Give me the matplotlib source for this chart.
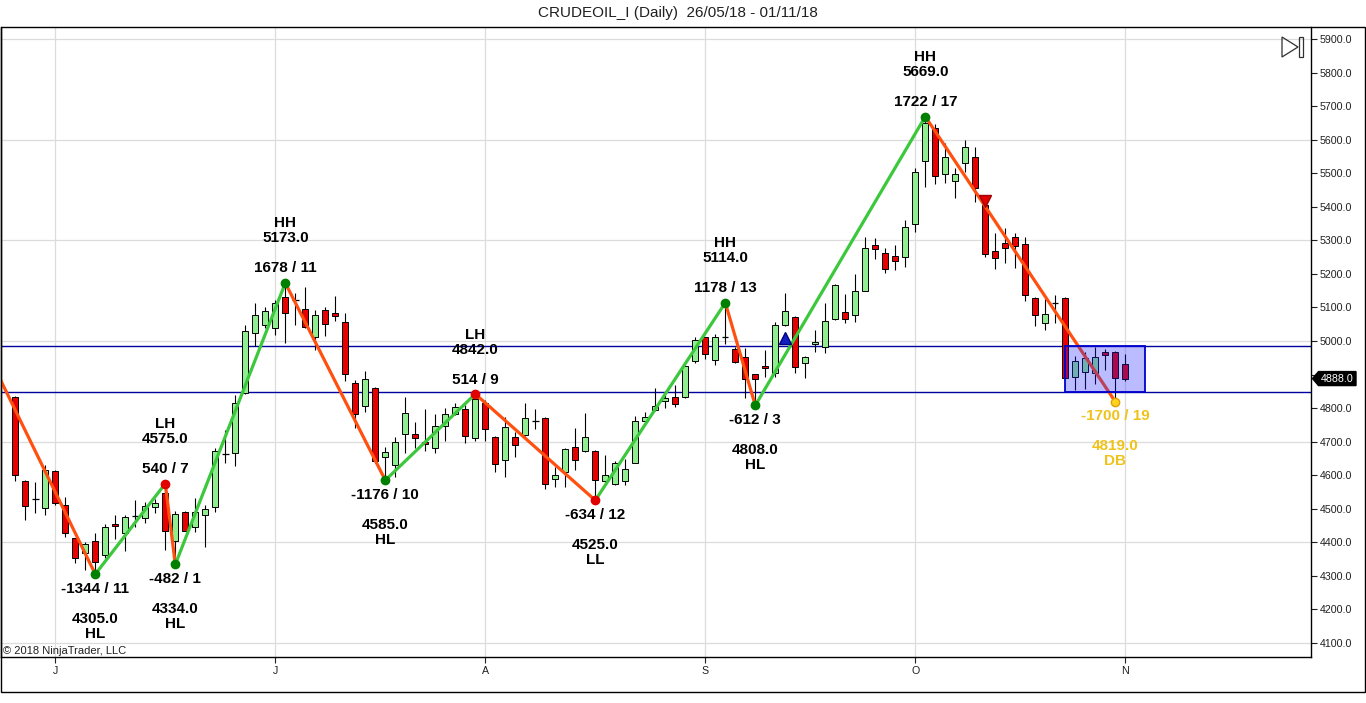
import numpy as np
import matplotlib
matplotlib.use('Agg')
import matplotlib.pyplot as plt
from matplotlib.patches import Rectangle, Polygon

plt.rcParams['font.family'] = ['Liberation Sans', 'DejaVu Sans']

# daily OHLC, 28/05/18 .. 01/11/18 (bar index 0..111)
opens = [4832, 4583, 4530, 4501, 4613, 4510, 4412, 4369, 4403, 4362, 4455, 4427, 4479, 4472, 4504, 4546,
         4404, 4490, 4447, 4480, 4506, 4662, 4667, 4846, 5023, 5048, 5038, 5132, 5122, 5094, 5013, 5092,
         5084, 5058, 4876, 4806, 4859, 4655, 4631, 4723, 4723, 4700, 4680, 4747, 4783, 4796, 4710, 4816,
         4713, 4645, 4713, 4720, 4763, 4770, 4588, 4611, 4683, 4673, 4672, 4583, 4574, 4583, 4637, 4763,
         4794, 4821, 4832, 4834, 4940, 5011, 4943, 5013, 4975, 4951, 4901, 4926, 4906, 5049, 5072, 4934,
         4991, 4983, 5066, 5086, 5078, 5150, 5285, 5261, 5253, 5251, 5349, 5537, 5634, 5498, 5477, 5531,
         5547, 5405, 5269, 5291, 5311, 5289, 5127, 5055, 5112, 5127, 4892, 4907, 4904, 4966, 4966, 4931]
highs = [4836, 4585, 4581, 4630, 4615, 4536, 4414, 4400, 4427, 4455, 4482, 4482, 4526, 4521, 4528, 4575,
         4494, 4492, 4531, 4511, 4680, 4735, 4839, 5048, 5112, 5102, 5122, 5173, 5142, 5160, 5092, 5102,
         5134, 5084, 4884, 4911, 4862, 4683, 4715, 4832, 4760, 4796, 4783, 4799, 4816, 4809, 4842, 4824,
         4716, 4774, 4730, 4814, 4796, 4772, 4625, 4680, 4740, 4786, 4675, 4660, 4643, 4647, 4777, 4789,
         4859, 4849, 4869, 4929, 5013, 5013, 5021, 5114, 4983, 4978, 4903, 4973, 5058, 5142, 5075, 4955,
         5033, 5113, 5170, 5140, 5200, 5311, 5306, 5276, 5286, 5361, 5515, 5669, 5647, 5591, 5515, 5599,
         5579, 5410, 5321, 5336, 5321, 5311, 5130, 5124, 5137, 5130, 4955, 4968, 4983, 4975, 4970, 4961]
lows = [4583, 4467, 4488, 4482, 4510, 4417, 4339, 4318, 4305, 4352, 4409, 4375, 4447, 4457, 4488, 4377,
        4334, 4433, 4432, 4387, 4490, 4637, 4628, 4843, 4985, 5038, 5018, 4995, 5048, 5038, 4973, 5015,
        5061, 4882, 4740, 4789, 4636, 4585, 4596, 4665, 4680, 4673, 4667, 4703, 4780, 4697, 4703, 4703,
        4611, 4594, 4655, 4718, 4737, 4558, 4566, 4566, 4616, 4670, 4525, 4580, 4572, 4571, 4635, 4760,
        4790, 4799, 4804, 4830, 4935, 4946, 4929, 4990, 4935, 4829, 4808, 4894, 4894, 5046, 4904, 4889,
        4968, 4963, 5062, 5055, 5058, 5148, 5244, 5202, 5212, 5221, 5326, 5458, 5468, 5470, 5425, 5505,
        5415, 5251, 5214, 5233, 5217, 5120, 5045, 5033, 5055, 4887, 4854, 4856, 4872, 4915, 4819, 4880]
closes = [4601, 4509, 4530, 4616, 4518, 4429, 4352, 4395, 4342, 4445, 4449, 4476, 4479, 4508, 4518, 4435,
          4484, 4435, 4490, 4499, 4673, 4662, 4816, 5030, 5077, 5089, 5114, 5083, 5122, 5041, 5077, 5051,
          5075, 4902, 4783, 4886, 4643, 4670, 4700, 4785, 4710, 4693, 4747, 4783, 4802, 4717, 4826, 4737,
          4634, 4745, 4690, 4770, 4763, 4574, 4602, 4677, 4645, 4713, 4586, 4601, 4636, 4619, 4763, 4774,
          4806, 4831, 4811, 4926, 5003, 4961, 5013, 5013, 4938, 4886, 4886, 4919, 5048, 5089, 4922, 4951,
          4998, 5060, 5167, 5066, 5149, 5276, 5273, 5214, 5239, 5339, 5503, 5649, 5492, 5547, 5498, 5577,
          5455, 5259, 5246, 5276, 5284, 5137, 5077, 5080, 5112, 4889, 4940, 4948, 4953, 4958, 4889, 4888]

month_idx = [4, 26, 47, 69, 90, 111]
month_labels = ['J', 'J', 'A', 'S', 'O', 'N']

# zigzag swing points
pivot_idx = [-3, 8, 15, 16, 27, 37, 46, 58, 71, 74, 91, 110]
pivot_price = [4977, 4305, 4575, 4334, 5173, 4585, 4842, 4525, 5114, 4808, 5669, 4819]
pivot_type = [None, 'HL', 'LH', 'HL', 'HH', 'HL', 'LH', 'LL', 'HH', 'HL', 'HH', 'DB']
swing_ticks = [None, -1344, 540, -482, 1678, -1176, 514, -634, 1178, -612, 1722, -1700]
swing_bars = [None, 11, 7, 1, 11, 10, 9, 12, 13, 3, 17, 19]

level_lines = [4984, 4847]
box_bars = (105, 113)
last_price = 4888
signal_up = (77, 5008)
signal_down = (97, 5416)

W, H = 1366, 703
fig = plt.figure(figsize=(W / 100, H / 100), dpi=100)
fig.patch.set_facecolor('white')
ax = fig.add_axes([1 / W, 1 - 656.7 / H, 1310 / W, (656.7 - 27.3) / H])
ax.set_xlim(-1.43, 129.57)
ax.set_ylim(4059, 5935)

# grid
for p in range(4100, 6000, 300):
    ax.axhline(p, color='#dcdcdc', lw=0.9, zorder=0)
for m in month_idx:
    ax.axvline(m, color='#dcdcdc', lw=0.9, zorder=0)
for lv in level_lines:
    ax.axhline(lv, color='#0000a0', lw=1.0, zorder=1)

# candles
x = np.arange(len(opens))
o = np.array(opens)
c = np.array(closes)
ax.vlines(x, lows, highs, color='black', lw=0.8, zorder=2)
body = o != c
cols = np.where(c > o, '#90ee90', '#e60000')
ax.bar(x[body], (c - o)[body], bottom=o[body], width=0.63, color=cols[body],
       edgecolor='black', linewidth=0.7, zorder=3)
ax.hlines(o[~body], x[~body] - 0.32, x[~body] + 0.32, color='black', lw=0.9, zorder=3)

# zigzag
for k in range(1, len(pivot_idx)):
    up = pivot_price[k] > pivot_price[k - 1]
    ax.plot(pivot_idx[k - 1:k + 1], pivot_price[k - 1:k + 1], color='#3cc83c' if up else '#ff5010',
            lw=2.3, zorder=4, solid_capstyle='round')

dot_col = {'HH': '#008000', 'HL': '#008000', 'LH': '#e00000', 'LL': '#e00000', 'DB': '#ffd21e'}
for k in range(1, len(pivot_idx)):
    t = pivot_type[k]
    is_high = pivot_price[k] > pivot_price[k - 1]
    ax.plot(pivot_idx[k], pivot_price[k], 'o', ms=6, color=dot_col[t],
            mec='#e0a000' if t == 'DB' else dot_col[t], zorder=5)
    tc = '#efc31a' if t == 'DB' else 'black'
    sgn = 1 if is_high else -1
    ratio = '%d / %d' % (swing_ticks[k], swing_bars[k])
    for txt, off in ((ratio, 14.5), ('%.1f' % pivot_price[k], 44.5), (t, 59.5)):
        ax.annotate(txt, (pivot_idx[k], pivot_price[k]), xytext=(0, sgn * off * 0.72),
                    textcoords='offset points', ha='center', va='center', fontsize=11,
                    fontweight='bold', color=tc, zorder=6)

# signal markers
ax.plot(*signal_up, marker='^', ms=8, color='#1020c0', mec='#000080', zorder=4)
ax.plot(*signal_down, marker='v', ms=8, color='#e00000', mec='#a00000', zorder=4)

# consolidation box
ax.add_patch(Rectangle((box_bars[0], level_lines[1]), box_bars[1] - box_bars[0],
                       level_lines[0] - level_lines[1], facecolor='#2020ff', alpha=0.3,
                       edgecolor='none', zorder=7))
ax.add_patch(Rectangle((box_bars[0], level_lines[1]), box_bars[1] - box_bars[0],
                       level_lines[0] - level_lines[1], facecolor='none',
                       edgecolor='#0000cd', lw=1.3, zorder=7))

# axes (4900 label is hidden behind the last price tag)
yt = list(range(4100, 6000, 100))
ax.yaxis.tick_right()
ax.set_yticks(yt)
ax.set_yticklabels(['' if v == 4900 else '%.1f' % v for v in yt])
ax.set_xticks(month_idx)
ax.set_xticklabels(month_labels)
ax.tick_params(axis='y', direction='out', length=4.3, width=0.8, pad=2, labelsize=7.7, colors='#202020')
ax.tick_params(axis='x', direction='out', length=4, width=0.8, pad=2.5, labelsize=7.7, colors='#202020')
for s in ('left', 'bottom', 'right'):
    ax.spines[s].set_linewidth(1.0)
ax.spines['top'].set_visible(False)

# last price tag
fig.canvas.draw()
yp = ax.transData.transform((0, last_price))[1]
x0, x1 = 1312.5, 1356
tag = Polygon([(x0, yp), (x0 + 6, yp + 7), (x1, yp + 7), (x1, yp - 7), (x0 + 6, yp - 7)],
              closed=True, facecolor='black', edgecolor='black', transform=None, zorder=10)
fig.add_artist(tag)
fig.text((x0 + 5 + x1) / 2 / W, yp / H, '%.1f' % last_price, color='white', fontsize=7.7,
         ha='center', va='center', zorder=11)

# outer frame
fig.add_artist(Rectangle((0.5 / W, (H - 691.5) / H), 1364.5 / W, (691.5 - 27.3) / H,
                         transform=fig.transFigure, fill=False, edgecolor='black', lw=1.0))

# play-to-end icon
fig.add_artist(Polygon([(1282 / W, 1 - 37 / H), (1282 / W, 1 - 57 / H), (1298 / W, 1 - 47 / H)],
                       closed=True, fill=False, edgecolor='#303030', lw=0.9, transform=fig.transFigure))
fig.add_artist(Rectangle((1299 / W, 1 - 57 / H), 4 / W, 20 / H, fill=False, edgecolor='#303030',
                         lw=0.9, transform=fig.transFigure))

fig.text(678 / W, 1 - 13 / H, 'CRUDEOIL_I (Daily)  26/05/18 - 01/11/18', ha='center', va='center',
         fontsize=11, color='#202020')
fig.text(3 / W, 1 - 651 / H, '\u00a9 2018 NinjaTrader, LLC', ha='left', va='center', fontsize=8,
         color='#202020')

fig.savefig('out.png', dpi=100)
